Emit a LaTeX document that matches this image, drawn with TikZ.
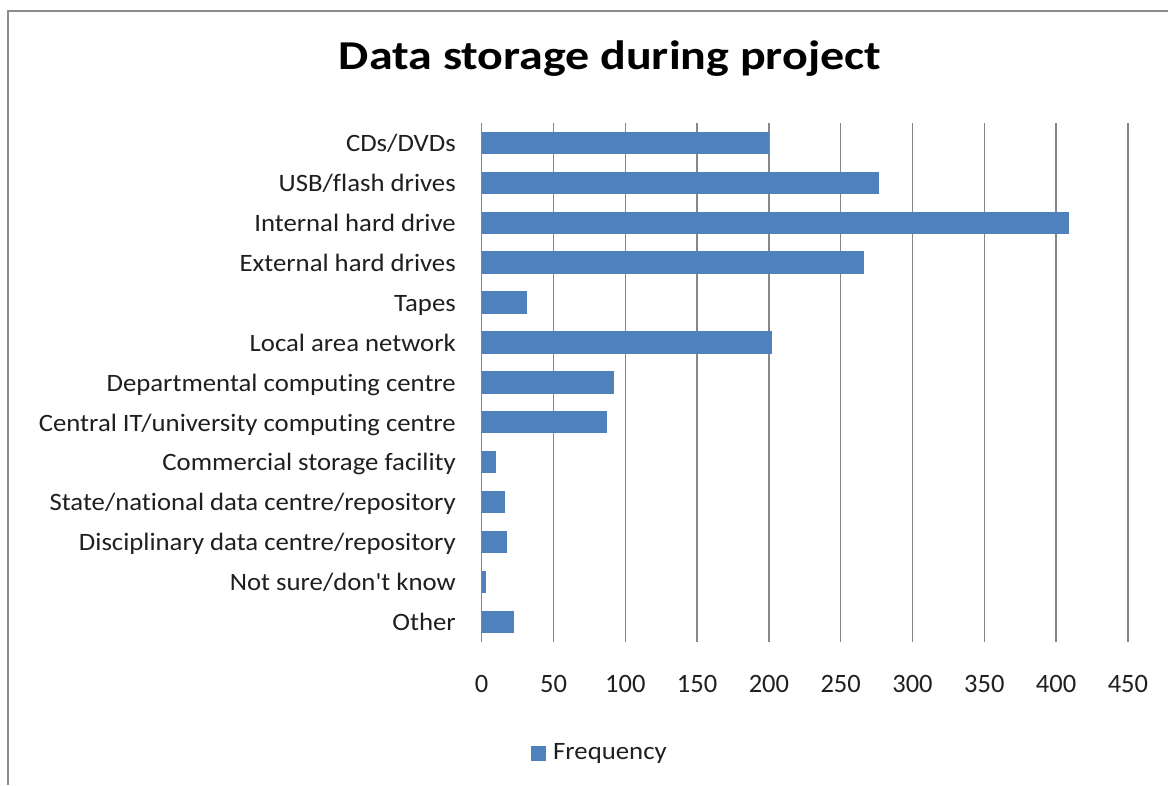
\documentclass[tikz,border=0pt]{standalone}
\usepackage{fontspec}
\setmainfont{Carlito}[Ligatures={TeX,NoCommon}]
\definecolor{barblue}{HTML}{4F81BD}
\definecolor{gridgray}{HTML}{878787}
\definecolor{framegray}{HTML}{8C8C8C}
\begin{document}
\begin{tikzpicture}[x=1pt,y=-1pt,
  gridline/.style={draw=gridgray,line width=1.3pt},
  bar/.style={fill=barblue,draw=none},
  catlabel/.style={anchor=base east,inner sep=0pt,xscale=1.07,font=\fontsize{25}{27}\selectfont,text=black!88},
  ticklabel/.style={anchor=base,inner sep=0pt,font=\fontsize{26.5}{28}\selectfont,text=black!88},
  legendlabel/.style={anchor=base west,inner sep=0pt,xscale=1.07,font=\fontsize{25}{27}\selectfont,text=black!88},
  charttitle/.style={anchor=base,inner sep=0pt,xscale=1.17,font=\fontsize{41}{44}\selectfont\bfseries}]
\useasboundingbox (0,0) rectangle (1168,785);
% chart frame (only top and left edges are in view)
\draw[framegray,line width=2.5pt] (8,785) -- (8,11) -- (1168,11);
% title
\node[charttitle] (title) at (610,69.3) {Data storage during project};
% vertical gridlines and value labels, 50 units = 71.8pt, zero at x=481.7
\foreach \v [count=\i] in {0,50,...,450}{
  \pgfmathsetmacro{\gx}{481.7+\v*1.436}
  \draw[gridline] (\gx,123) -- (\gx,642);
  \node[ticklabel] (tick\i) at (\gx,692.3) {\v};
}
% bars, one row per category (row height 39.9pt)
\foreach \lab/\val [count=\i] in {
  {CDs/DVDs}/200,
  {USB/flash drives}/277,
  {Internal hard drive}/409,
  {External hard drives}/266,
  {Tapes}/31.5,
  {Local area network}/202,
  {Departmental computing centre}/92,
  {Central IT/university computing centre}/87,
  {Commercial storage facility}/10,
  {State/national data centre/repository}/16.5,
  {Disciplinary data centre/repository}/17.5,
  {Not sure/don\textquotesingle t know}/3,
  {Other}/22.7}{
  \pgfmathsetmacro{\cy}{123+(\i-0.5)*39.9}
  \fill[bar] (481.7,\cy-11.2) rectangle (481.7+\val*1.436,\cy+11.2);
  \node[catlabel] (cat\i) at (456,\cy+8.8) {\lab};
}
% legend
\fill[bar] (531,746) rectangle (546,761);
\node[legendlabel] (legend) at (553,759.5) {Frequency};
\end{tikzpicture}
\end{document}
